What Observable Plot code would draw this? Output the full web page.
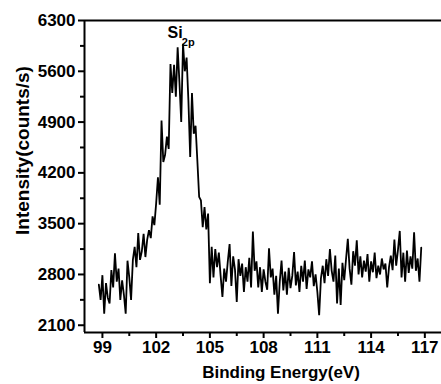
<!DOCTYPE html>
<html>
<head>
<meta charset="utf-8">
<script src="https://cdn.jsdelivr.net/npm/d3@7"></script>
<script src="https://cdn.jsdelivr.net/npm/@observablehq/plot@0.6"></script>
<style>
  html, body { margin: 0; padding: 0; background: #fff; }
  #chart svg { display: block; }
</style>
</head>
<body>
<div id="chart"></div>
<script>
// Binding energy (eV)
const energy = [
  98.8, 98.9,
  99.0, 99.1, 99.2, 99.3, 99.4, 99.5, 99.6, 99.7, 99.8, 99.9,
  100.0, 100.1, 100.2, 100.3, 100.4, 100.5, 100.6, 100.7, 100.8, 100.9,
  101.0, 101.1, 101.2, 101.3, 101.4, 101.5, 101.6, 101.7, 101.8, 101.9,
  102.0, 102.1, 102.2, 102.3, 102.4, 102.5, 102.6, 102.7, 102.8, 102.9,
  103.0, 103.1, 103.2, 103.3, 103.4, 103.5, 103.6, 103.7, 103.8, 103.9,
  104.0, 104.1, 104.2, 104.3, 104.4, 104.5, 104.6, 104.7, 104.8, 104.9,
  105.0, 105.1, 105.2, 105.3, 105.4, 105.5, 105.6, 105.7, 105.8, 105.9,
  106.0, 106.1, 106.2, 106.3, 106.4, 106.5, 106.6, 106.7, 106.8, 106.9,
  107.0, 107.1, 107.2, 107.3, 107.4, 107.5, 107.6, 107.7, 107.8, 107.9,
  108.0, 108.1, 108.2, 108.3, 108.4, 108.5, 108.6, 108.7, 108.8, 108.9,
  109.0, 109.1, 109.2, 109.3, 109.4, 109.5, 109.6, 109.7, 109.8, 109.9,
  110.0, 110.1, 110.2, 110.3, 110.4, 110.5, 110.6, 110.7, 110.8, 110.9,
  111.0, 111.1, 111.2, 111.3, 111.4, 111.5, 111.6, 111.7, 111.8, 111.9,
  112.0, 112.1, 112.2, 112.3, 112.4, 112.5, 112.6, 112.7, 112.8, 112.9,
  113.0, 113.1, 113.2, 113.3, 113.4, 113.5, 113.6, 113.7, 113.8, 113.9,
  114.0, 114.1, 114.2, 114.3, 114.4, 114.5, 114.6, 114.7, 114.8, 114.9,
  115.0, 115.1, 115.2, 115.3, 115.4, 115.5, 115.6, 115.7, 115.8, 115.9,
  116.0, 116.1, 116.2, 116.3, 116.4, 116.5, 116.6, 116.7, 116.8
];
// Intensity (counts/s)
const intensity = [
  2660, 2450,
  2790, 2260, 2680, 2480, 2400, 2860, 2620, 3090, 2700, 2880,
  2450, 2720, 2520, 2260, 2990, 2760, 2450, 3000, 3180, 2900,
  3370, 3000, 3120, 3360, 3040, 3280, 3410, 3300, 3600, 3480,
  3780, 4140, 3760, 4920, 4350, 4450, 4700, 4530, 5700, 5300,
  5690, 5250, 5930, 5450, 4900, 5980, 5600, 5790, 5200, 4420,
  5300, 4740, 4850, 4370, 3870, 3820, 3450, 3730, 3420, 3640,
  2680, 3180, 2760, 3150, 2900, 3100, 2780, 2490, 2880, 2700,
  2980, 3220, 2640, 3050, 2870, 2420, 3010, 2780, 2950, 2560,
  2900, 2700, 3030, 2620, 3390, 2850, 2980, 2620, 2900, 2560,
  2870, 2700, 2590, 3160, 2760, 2880, 2520, 2780, 2260, 2700,
  2990, 2580, 2840, 2520, 2890, 2610, 2780, 3110, 2650, 2840,
  2560, 2920, 2700, 2990, 2600, 2870, 2760, 2980, 2640, 2800,
  2560, 2240, 2750, 2920, 2680, 3010, 2780, 3150, 2850, 2700,
  3060, 2400, 2880, 2380, 2960, 2720, 3010, 3290, 2880, 2660,
  3120, 2920, 3270, 2800, 3050, 2760, 2990, 2840, 3080, 2700,
  2980, 2830, 3100, 2750, 2920, 2800, 3020, 2870, 2950, 2620,
  2900, 3060, 2860, 3280, 2920, 3140, 3400, 2760, 3100, 2700,
  3130, 2820, 3050, 2880, 3380, 2850, 3020, 2700, 3170
];
const xTicks = [99, 102, 105, 108, 111, 114, 117];
const xMinorTicks = [100.5, 103.5, 106.5, 109.5, 112.5, 115.5];
const yTicks = [2100, 2800, 3500, 4200, 4900, 5600, 6300];
const yMinorTicks = [2450, 3150, 3850, 4550, 5250, 5950];
const xLabel = "Binding Energy(eV)";
const yLabel = "Intensity(counts/s)";
const yLabelAt = 4508;
const peakName = "Si";
const peakSub = "2p";
const peakPos = {x: 102.64, y: 6055};
const peakSubPos = {x: 103.43, y: 5945};

const data = energy.map((e, i) => ({e, v: intensity[i]}));

const chart = Plot.plot({
  width: 441,
  height: 384,
  marginLeft: 84,
  marginRight: 0,
  marginTop: 20,
  marginBottom: 52,
  style: {
    fontFamily: "'Liberation Sans', Arial, sans-serif",
    fontWeight: "bold",
    fontSize: "17px",
    color: "#000",
    background: "#fff"
  },
  x: {domain: [98, 117.93]},
  y: {domain: [2000, 6300]},
  marks: [
    Plot.line(data, {x: "e", y: "v", stroke: "#000", strokeWidth: 1.8, strokeLinejoin: "miter"}),
    Plot.ruleY([2000], {stroke: "#000", strokeWidth: 2}),
    Plot.ruleY([6300], {stroke: "#000", strokeWidth: 2}),
    Plot.ruleX([98], {stroke: "#000", strokeWidth: 2}),
    Plot.axisX({ticks: xTicks, tickSize: 6, tickPadding: 2, tickFormat: "d", label: null, strokeWidth: 2, fontSize: 17}),
    Plot.axisX({ticks: xMinorTicks, tickSize: 4, tickFormat: () => "", label: null, strokeWidth: 2}),
    Plot.axisY({ticks: yTicks, tickSize: 6, tickPadding: 3, tickFormat: "d", label: null, strokeWidth: 2, fontSize: 17}),
    Plot.axisY({ticks: yMinorTicks, tickSize: 4, tickFormat: () => "", label: null, strokeWidth: 2}),
    Plot.text([xLabel], {frameAnchor: "bottom", lineAnchor: "bottom", dx: 18, dy: 45, fontSize: 17, fontWeight: "bold"}),
    Plot.text([yLabel], {y: () => yLabelAt, frameAnchor: "left", textAnchor: "middle", rotate: -90, dx: -62, text: d => d, fontSize: 19, fontWeight: "bold"}),
    Plot.text([peakName], {x: () => peakPos.x, y: () => peakPos.y, text: d => d, textAnchor: "start", lineAnchor: "bottom", fontSize: 16, fontWeight: "bold"}),
    Plot.text([peakSub], {x: () => peakSubPos.x, y: () => peakSubPos.y, text: d => d, textAnchor: "start", lineAnchor: "bottom", fontSize: 11, fontWeight: "bold"})
  ]
});
document.getElementById("chart").appendChild(chart);
</script>
</body>
</html>
